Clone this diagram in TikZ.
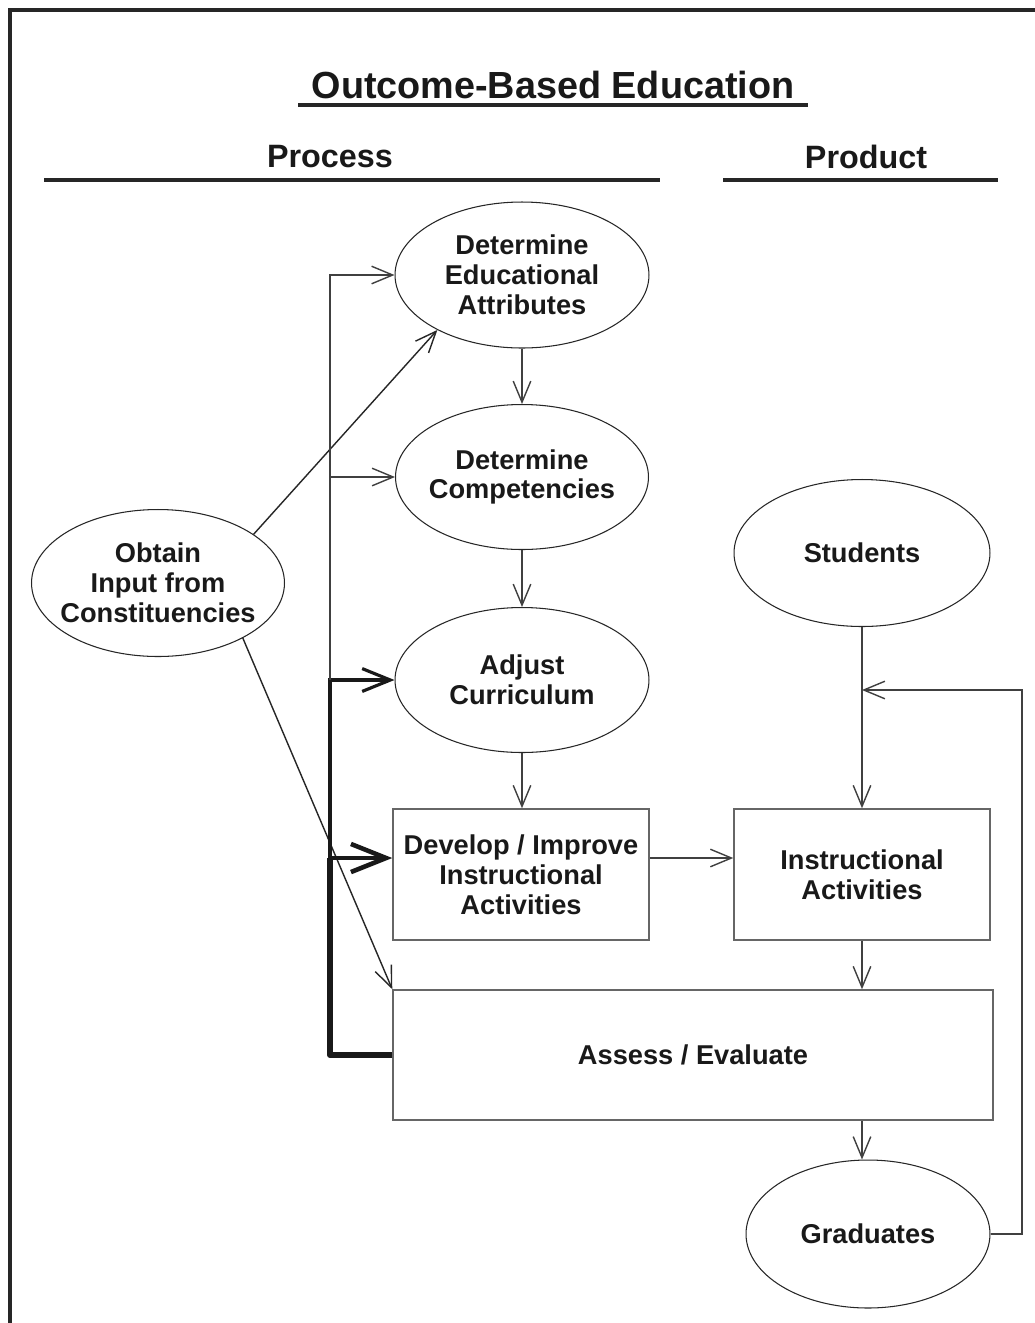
\documentclass[tikz,border=0pt]{standalone}
\usepackage{fontspec}
\setmainfont{Liberation Sans}
\usetikzlibrary{shapes.geometric,arrows.meta,calc}
\begin{document}
\begin{tikzpicture}[x=0.02cm,y=-0.02cm,
  every node/.style={font=\bfseries\fontsize{15.5}{17}\selectfont, align=center, text=black!90},
  ell/.style={draw=black!85, line width=0.6pt, ellipse, inner sep=-30pt},
  box/.style={draw=black!60, line width=0.9pt, rectangle, inner sep=0pt},
  ln/.style={line width=0.8pt, draw=black!75},
  tipA/.style={-{Straight Barb[length=12pt,width=10pt]}},
  tipB/.style={-{Straight Barb[length=16pt,width=13pt]}},
  tipC/.style={-{Straight Barb[length=20pt,width=16pt]}},
  rule/.style={line width=1.8pt, draw=black!85}
]
\useasboundingbox (0,0) rectangle (1035,1323);
\fill[white] (0,0) rectangle (1035,1323);
% frame
\draw[line width=1.8pt, draw=black!85] (10,1323) -- (10,10) -- (1035,10);
% headings
\node[font=\bfseries\fontsize{21.5}{24}\selectfont] (title) at (553,85) {Outcome-Based Education};
\draw[rule] (298,105) -- (808,105);
\node[font=\bfseries\fontsize{18.4}{21}\selectfont] (proc) at (330,157) {Process};
\draw[rule] (44,180) -- (660,180);
\node[font=\bfseries\fontsize{18.4}{21}\selectfont] (prod) at (866,157) {Product};
\draw[rule] (723,180) -- (998,180);

% nodes
\node[ell, minimum width=5.08cm, minimum height=2.92cm] (A) at (522,275) {Determine\\Educational\\Attributes};
\node[ell, minimum width=5.06cm, minimum height=2.90cm] (B) at (522,477) {Determine\\Competencies};
\node[ell, minimum width=5.08cm, minimum height=2.90cm] (C) at (522,680) {Adjust\\Curriculum};
\node[box, minimum width=5.12cm, minimum height=2.62cm] (D) at (521,874.5) {Develop / Improve\\Instructional\\Activities};
\node[box, minimum width=5.12cm, minimum height=2.62cm] (E) at (862,874.5) {Instructional\\Activities};
\node[box, minimum width=12.0cm, minimum height=2.60cm] (F) at (693,1055) {Assess / Evaluate};
\node[ell, minimum width=5.06cm, minimum height=2.94cm] (O) at (158,583) {Obtain\\Input from\\Constituencies};
\node[ell, minimum width=5.12cm, minimum height=2.94cm] (S) at (862,553) {Students};
\node[ell, minimum width=4.88cm, minimum height=2.96cm] (G) at (868,1234) {Graduates};

% helper coordinates
\coordinate (xb) at (330,0);
\coordinate (yD) at (0,858);
\coordinate (fb) at (1022,690);

% vertical chain
\draw[ln, tipA] (A) -- (B);
\draw[ln, tipA] (B) -- (C);
\draw[ln, tipA] (C) -- (C.south |- D.north);
\draw[ln, tipA] (D.east |- yD) -- (E.west |- yD);
\draw[ln, tipA] (S) -- (E);
\draw[ln, tipA] (E) -- (E.south |- F.north);
\draw[ln, tipA] (E.south |- F.south) -- (E.south |- G.north);
\draw[ln, tipA] (G.east) -| (fb) -- (S.south |- fb);

% from constituencies
\draw[ln, black!85, tipA] (O.27) -- (A.213);
\draw[ln, black!85, tipA] (O.327) -- (F.north west);

% feedback bus
\draw[line width=3.4pt, black!90, line join=round] (F.west) -| (xb |- yD);
\draw[line width=2.6pt, black!90, tipC] (xb |- yD) -- (D.west |- yD);
\draw[line width=1.8pt, black!90, tipB] (xb |- yD) -- (xb |- C.west) -- (C.west);
\draw[ln, tipA] (xb |- C.west) -- (xb |- B.west) -- (B.west);
\draw[ln, tipA] (xb |- B.west) -- (xb |- A.west) -- (A.west);
\end{tikzpicture}
\end{document}
